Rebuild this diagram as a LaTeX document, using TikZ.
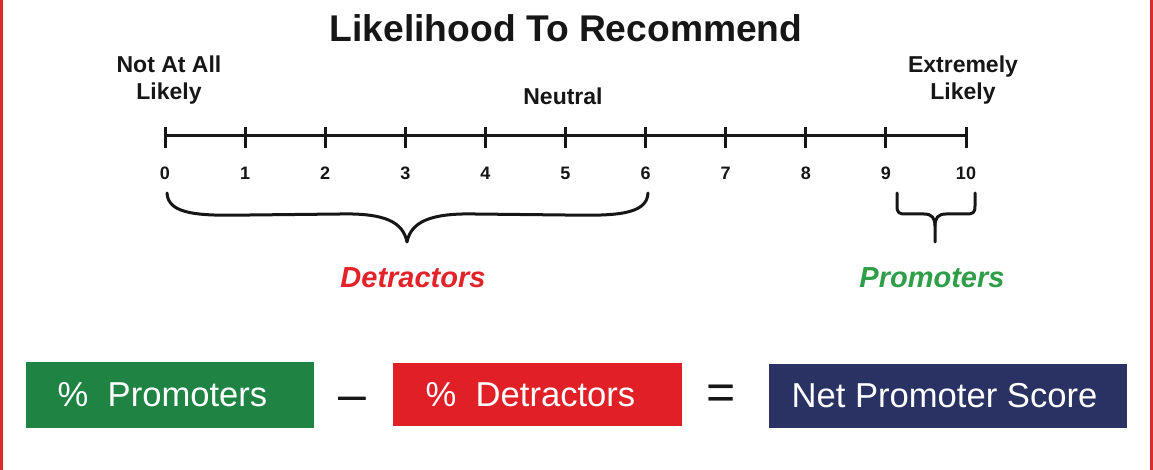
\documentclass[tikz,border=0pt]{standalone}
\usepackage{fontspec}
\setmainfont{Liberation Sans}
\definecolor{pgreen}{HTML}{1F8443}
\definecolor{pred}{HTML}{E01F27}
\definecolor{pnavy}{HTML}{2A3263}
\definecolor{tred}{HTML}{E42229}
\definecolor{tgreen}{HTML}{2E9E48}
\definecolor{bred}{HTML}{DA2A2E}
\definecolor{ink}{HTML}{161616}
\tikzset{
  lbl/.style={inner sep=0pt, anchor=base, text=ink, font=\fontsize{11.5pt}{14pt}\selectfont\bfseries},
  num/.style={inner sep=0pt, anchor=base, text=ink, font=\fontsize{9pt}{11pt}\selectfont\bfseries},
  grp/.style={inner sep=0pt, anchor=base, font=\fontsize{14.5pt}{17pt}\selectfont\bfseries\itshape},
  box/.style={inner sep=0pt, text=white, font=\fontsize{17.3pt}{20pt}\selectfont},
  op/.style={inner sep=0pt, anchor=base, text=ink, font=\fontsize{25pt}{28pt}\selectfont},
  axisline/.style={line width=1.5pt, draw=ink},
  bracepath/.style={line width=1.5pt, draw=ink, line cap=round, line join=round}
}
\begin{document}
\begin{tikzpicture}[x=0.5pt, y=-0.5pt]
\useasboundingbox (0,0) rectangle (1153,470);
\fill[white] (0,0) rectangle (1153,470);
\fill[bred] (0,0) rectangle (3,470);
\fill[bred] (1150,0) rectangle (1153,470);

% title
\node[inner sep=0pt, anchor=base, text=ink, font=\fontsize{18.6pt}{22pt}\selectfont\bfseries] (title) at (566,42) {Likelihood To Recommend};

% end labels
\node[lbl] (notat) at (169,73) {Not At All};
\node[lbl] (notlik) at (169,100) {Likely};
\node[lbl] (ext) at (963,73) {Extremely};
\node[lbl] (extlik) at (963,100) {Likely};
\node[lbl] (neutral) at (563,105) {Neutral};

% axis
\foreach \i in {0,...,10} {
  \coordinate (t\i) at ({165+80.1*\i},136);
}
\draw[axisline] (t0) -- (t10);
\foreach \i in {0,...,10} {
  \draw[axisline] ([yshift=4.5pt]t\i) -- ([yshift=-6pt]t\i);
  \node[num] (n\i) at ({165+80.1*\i},180) {\i};
}

% detractors brace
\draw[bracepath] (167,193) .. controls (168,215) and (200,216) .. (250,215)
  -- (340,214) .. controls (385,213) and (403,222) .. (407,242);
\draw[bracepath] (648,193) .. controls (647,215) and (615,216) .. (565,215)
  -- (475,214) .. controls (430,213) and (411,222) .. (407,242);
\node[grp, text=tred] (detr) at (413,288) {Detractors};

% promoters brace
\draw[bracepath] (897,193) -- (897,206) .. controls (897,213) and (899,214) .. (906,214)
  -- (924,214) .. controls (932,214) and (935,218) .. (935,226) -- (935,242);
\draw[bracepath] (975,193) -- (975,206) .. controls (975,213) and (973,214) .. (966,214)
  -- (946,214) .. controls (938,214) and (935,218) .. (935,226);
\node[grp, text=tgreen] (prom) at (932,288) {Promoters};

% formula
\node[box, fill=pgreen, minimum width=144pt, minimum height=33pt] (bprom) at (170,395) {\%\ \ Promoters\kern7.5pt};
\node[op] (minus) at (352,411.5) {–};
\node[box, fill=pred, minimum width=144.5pt, minimum height=31.5pt] (bdetr) at (537.5,394.5) {\%\ \ Detractors\kern7pt};
\node[op] (equals) at (721,409.5) {=};
\node[box, fill=pnavy, minimum width=179pt, minimum height=32pt] (bnps) at (948,396) {Net Promoter Score\kern3.5pt};
\end{tikzpicture}
\end{document}
